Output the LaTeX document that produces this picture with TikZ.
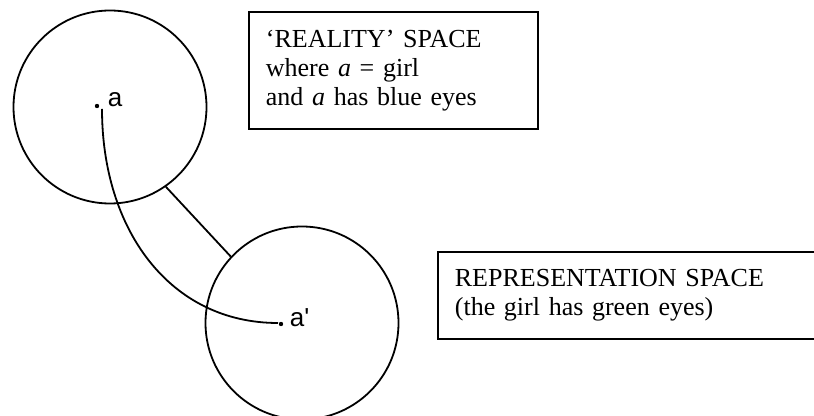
\documentclass[tikz,border=0pt]{standalone}
\usepackage{fontspec}
\setmainfont{Liberation Serif}
\newfontfamily\tagfont{Liberation Sans}
\usetikzlibrary{positioning}

\begin{document}
\begin{tikzpicture}[x=0.5pt,y=-0.5pt,line width=0.9pt,
    space/.style={circle,draw,minimum size=96.5pt,inner sep=0pt},
    note/.style={draw,anchor=north west,align=left,inner xsep=8.5pt,
      font=\fontsize{13}{14.5}\selectfont},
    spot/.style={circle,fill,inner sep=0pt,minimum size=2.2pt},
    tag/.style={anchor=base west,inner sep=0pt,font=\tagfont\fontsize{13}{15}\selectfont}]
  \clip (0,0) rectangle (814,416);
  % the two spaces
  \node[space] (real) at (110,107) {};
  \node[space] (repr) at (302,323) {};
  \draw (real.-55) -- (repr.137);
  % the girl and her counterpart
  \node[spot] (a) at (97,106) {};
  \node[tag] (alab) at (107,107) {a};
  \node[spot] (aprime) at (281,324) {};
  \node[tag] (aprimelab) at (289,327) {a'};
  \draw ([shift={(5,3)}]a.center) .. controls +(0,121) and +(-108,0) .. ([shift={(-3,-1)}]aprime.center);
  % captions
  \node[note,minimum height=58.5pt,text width=127.5pt] (realnote) at (248,11)
    {‘REALITY’ SPACE\\ where \textit{a} = girl\\ and \textit{a} has blue eyes};
  \node[note,minimum height=43.5pt,text width=190pt] (reprnote) at (437,251)
    {REPRESENTATION SPACE\\ (the girl has green eyes)};
\end{tikzpicture}
\end{document}
